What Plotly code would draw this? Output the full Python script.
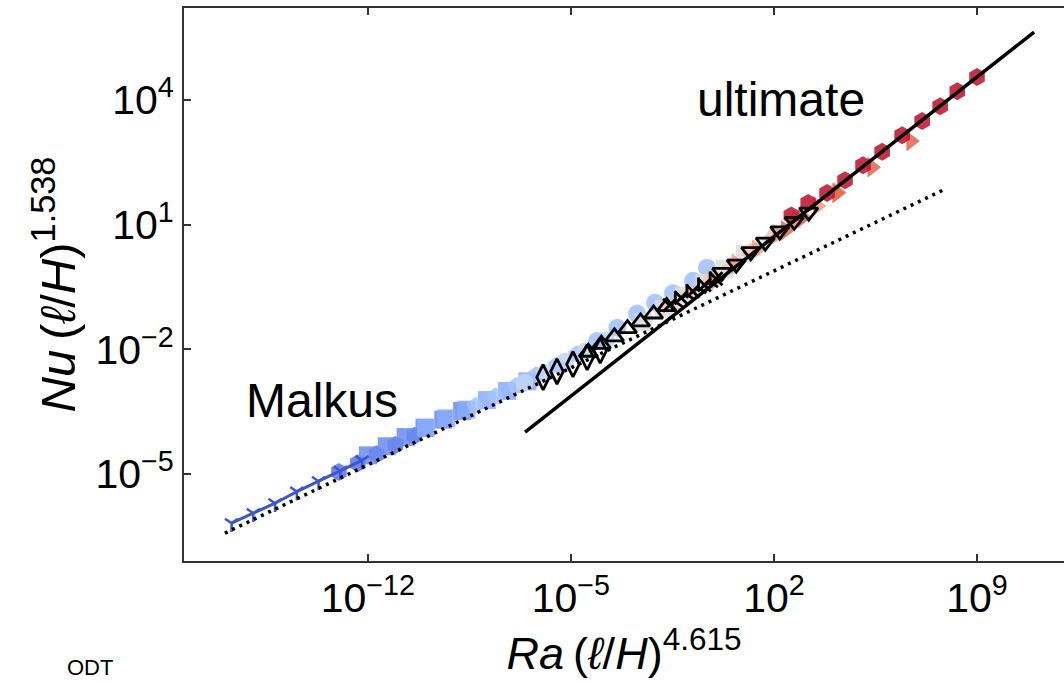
import numpy as np
import plotly.graph_objects as go

# ---- data (log10 values) ----
# x: Ra (l/H)^4.615 , y: Nu (l/H)^1.538
blue_line_lx = [-16.70, -15.95, -15.20, -14.45, -13.70, -12.95, -12.20]
blue_line_ly = [-6.18, -5.94, -5.70, -5.42, -5.17, -4.92, -4.67]

sA_lx = [-13.00, -12.35, -11.70, -11.05, -10.40]
sA_ly = [-4.95, -4.74, -4.52, -4.30, -4.08]

sB_lx = [-12.00, -11.35, -10.70, -10.05, -9.40, -8.75]
sB_ly = [-4.55, -4.33, -4.11, -3.89, -3.69, -3.48]

sC_lx = [-10.00, -9.30, -8.60, -7.90, -7.20, -6.50]
sC_ly = [-3.88, -3.66, -3.45, -3.22, -3.00, -2.77]

sD_lx = [-8.30, -7.60, -6.90, -6.20, -5.50, -4.80]
sD_ly = [-3.36, -3.13, -2.88, -2.62, -2.38, -2.12]

sE_lx = [-6.60, -5.90, -5.20, -4.50, -3.80]
sE_ly = [-2.80, -2.57, -2.30, -2.05, -1.78]

sF_lx = [-4.10, -3.40, -2.72, -2.10, -1.48, -0.79, -0.31]
sF_ly = [-1.80, -1.48, -1.14, -0.88, -0.65, -0.35, -0.04]

sG_lx = [-2.50, -1.80, -1.10, -0.40, 0.30, 1.00]
sG_ly = [-1.35, -1.02, -0.70, -0.40, -0.06, 0.30]

sH_lx = [-1.60, -0.90, -0.20, 0.50, 1.20, 1.90, 2.60]
sH_ly = [-0.92, -0.62, -0.30, 0.02, 0.36, 0.70, 1.02]

sI_lx = [0.00, 0.70, 1.40, 2.10, 2.80, 3.50, 4.20]
sI_ly = [-0.32, 0.06, 0.40, 0.78, 1.10, 1.45, 1.78]

sJ_lx = [2.40, 3.00, 4.17, 5.38, 6.72]
sJ_ly = [0.86, 1.18, 1.76, 2.38, 3.01]

sK_lx = [2.60, 3.18, 3.83, 4.45, 5.07, 5.73, 6.42, 7.11, 7.73, 8.32, 9.00]
sK_ly = [1.22, 1.52, 1.76, 2.07, 2.43, 2.75, 3.15, 3.49, 3.85, 4.21, 4.55]

# black open-marker series
k_diam_lx = [-5.96, -5.48, -4.93, -4.44, -3.99]
k_diam_ly = [-2.67, -2.53, -2.36, -2.19, -2.03]

k_tri_lx = [-4.40, -3.95, -3.50, -3.05, -2.60, -2.15, -1.70]
k_tri_ly = [-2.07, -1.88, -1.70, -1.50, -1.34, -1.15, -0.97]

k_x_lx = [-1.60, -1.20, -0.80, -0.40, 0.00]
k_x_ly = [-0.94, -0.76, -0.60, -0.45, -0.30]

k_y_lx = [-1.40, -1.00, -0.60, -0.20]
k_y_ly = [-0.86, -0.68, -0.52, -0.38]

k_td_lx = [0.20, 0.70, 1.20, 1.70, 2.20, 2.70, 3.20]
k_td_ly = [-0.15, 0.05, 0.35, 0.58, 0.85, 1.08, 1.30]

# scaling lines (end points)
malkus_lx = [-16.93, 7.83]
malkus_ly = [-6.42, 1.83]
ultimate_lx = [-6.58, 10.97]
ultimate_ly = [-3.99, 5.63]

x_tick_exp = [-12, -5, 2, 9]
y_tick_exp = [-5, -2, 1, 4]

filled = [
    (sA_lx, sA_ly, "#5676e2", "hexagon"),
    (sB_lx, sB_ly, "#6a8bef", "square"),
    (sC_lx, sC_ly, "#88abfc", "square"),
    (sD_lx, sD_ly, "#a3c2fe", "pentagon"),
    (sE_lx, sE_ly, "#c3d5f3", "circle"),
    (sF_lx, sF_ly, "#a0bffe", "circle"),
    (sG_lx, sG_ly, "#dddcdc", "square"),
    (sH_lx, sH_ly, "#f5c4ac", "triangle-up"),
    (sI_lx, sI_ly, "#f39a7c", "triangle-right"),
    (sJ_lx, sJ_ly, "#e0654f", "triangle-right"),
    (sK_lx, sK_ly, "#bb0f2c", "hexagon"),
]

black = [
    (k_diam_lx, k_diam_ly, "diamond-tall-open", 18),
    (k_tri_lx, k_tri_ly, "triangle-up-open", 16),
    (k_x_lx, k_x_ly, "x-thin-open", 13),
    (k_y_lx, k_y_ly, "y-up-open", 13),
    (k_td_lx, k_td_ly, "triangle-down-open", 16),
]

def p10(v):
    return np.power(10.0, np.array(v, dtype=float))

fig = go.Figure()

for lx, ly, col, sym in filled:
    fig.add_trace(go.Scatter(
        x=p10(lx), y=p10(ly), mode="markers",
        marker=dict(symbol=sym, size=18, color=col, opacity=0.85,
                    line=dict(width=0)),
        showlegend=False))

fig.add_trace(go.Scatter(
    x=p10(blue_line_lx), y=p10(blue_line_ly), mode="lines+markers",
    line=dict(color="#3f55cc", width=3),
    marker=dict(symbol="y-down-open", size=11,
                line=dict(color="#3f55cc", width=2.5)),
    showlegend=False))

for lx, ly, sym, sz in black:
    fig.add_trace(go.Scatter(
        x=p10(lx), y=p10(ly), mode="markers",
        marker=dict(symbol=sym, size=sz, color="black",
                    line=dict(color="black", width=2.8)),
        showlegend=False))

fig.add_trace(go.Scatter(
    x=p10(malkus_lx), y=p10(malkus_ly), mode="lines",
    line=dict(color="black", width=3.5, dash="3px,5px"),
    showlegend=False))
fig.add_trace(go.Scatter(
    x=p10(ultimate_lx), y=p10(ultimate_ly), mode="lines",
    line=dict(color="black", width=3.5),
    showlegend=False))

def exp_label(e):
    s = str(e).replace("-", "\u2212")
    return "10<sup>" + s + "</sup>"

FONT = "Liberation Sans, Arial, sans-serif"

fig.update_layout(
    width=1064, height=683,
    margin=dict(l=184, r=0, t=8, b=122),
    paper_bgcolor="white", plot_bgcolor="white",
    font=dict(family=FONT, color="black", size=41),
    xaxis=dict(
        type="log", range=[-18.34, 12.0],
        tickvals=p10(x_tick_exp), ticktext=[exp_label(e) for e in x_tick_exp],
        ticks="inside", ticklen=7, tickwidth=1.5, tickcolor="#333",
        showline=True, linecolor="#333", linewidth=2, mirror="ticks",
        showgrid=False, zeroline=False,
        tickfont=dict(size=41),
        title=dict(text="<i>Ra</i>\u2009(<i>ℓ</i>/<i>H</i>)<sup>4.615</sup>",
                   font=dict(size=45), standoff=2),
    ),
    yaxis=dict(
        type="log", range=[-7.09, 6.21],
        tickvals=p10(y_tick_exp), ticktext=[exp_label(e) for e in y_tick_exp],
        ticks="inside", ticklen=7, tickwidth=1.5, tickcolor="#333",
        showline=True, linecolor="#333", linewidth=2, mirror=False,
        showgrid=False, zeroline=False,
        tickfont=dict(size=41),
        title=dict(text="<i>Nu</i>\u2009(<i>ℓ</i>/<i>H</i>)<sup>1.538</sup>",
                   font=dict(size=49), standoff=4),
    ),
    annotations=[
        dict(text="Malkus", xref="paper", yref="paper", x=0.157, y=0.291,
             xanchor="center", yanchor="middle",
             showarrow=False, font=dict(size=48, family=FONT)),
        dict(text="ultimate", xref="paper", yref="paper", x=0.678, y=0.834,
             xanchor="center", yanchor="middle",
             showarrow=False, font=dict(size=48, family=FONT)),
        dict(text="ODT", xref="paper", yref="paper", x=-0.107, y=-0.218,
             xanchor="center", yanchor="bottom",
             showarrow=False, font=dict(size=22, family=FONT)),
    ],
)

fig.write_html("out.html")
